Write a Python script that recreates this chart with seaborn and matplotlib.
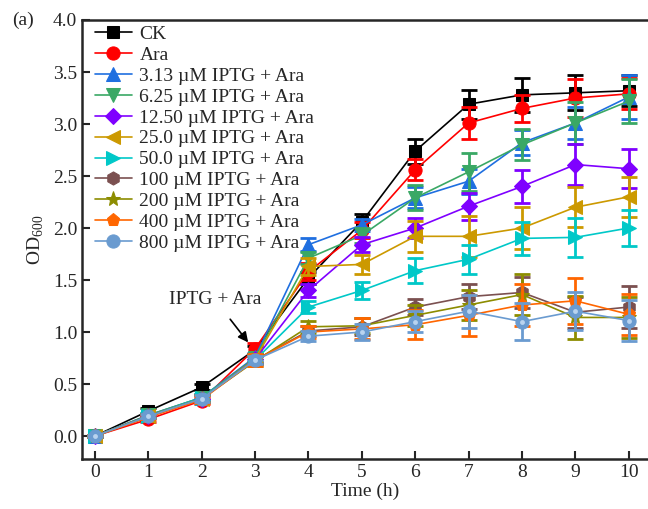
import numpy as np
import pandas as pd
import matplotlib
matplotlib.use("Agg")
import matplotlib.pyplot as plt
import seaborn as sns

time_h = [0, 1, 2, 3, 4, 5, 6, 7, 8, 9, 10]

labels = ["CK", "Ara",
          "3.13 µM IPTG + Ara", "6.25 µM IPTG + Ara", "12.50 µM IPTG + Ara",
          "25.0 µM IPTG + Ara", "50.0 µM IPTG + Ara", "100 µM IPTG + Ara",
          "200 µM IPTG + Ara", "400 µM IPTG + Ara", "800 µM IPTG + Ara"]

od_ck    = [0.0, 0.24, 0.47, 0.83, 1.52, 2.06, 2.74, 3.19, 3.28, 3.30, 3.32]
od_ara   = [0.0, 0.16, 0.34, 0.84, 1.58, 1.98, 2.56, 3.01, 3.15, 3.25, 3.29]
od_3p13  = [0.0, 0.20, 0.37, 0.76, 1.84, 2.03, 2.29, 2.45, 2.82, 3.01, 3.26]
od_6p25  = [0.0, 0.20, 0.37, 0.75, 1.71, 1.93, 2.29, 2.54, 2.80, 3.01, 3.22]
od_12p5  = [0.0, 0.19, 0.36, 0.74, 1.40, 1.84, 2.00, 2.21, 2.40, 2.61, 2.57]
od_25    = [0.0, 0.19, 0.36, 0.74, 1.63, 1.65, 1.92, 1.92, 2.00, 2.20, 2.30]
od_50    = [0.0, 0.19, 0.37, 0.73, 1.24, 1.40, 1.59, 1.70, 1.90, 1.91, 2.00]
od_100   = [0.0, 0.19, 0.36, 0.73, 1.01, 1.05, 1.24, 1.34, 1.38, 1.19, 1.24]
od_200   = [0.0, 0.19, 0.36, 0.72, 1.05, 1.06, 1.16, 1.26, 1.36, 1.14, 1.14]
od_400   = [0.0, 0.18, 0.35, 0.73, 1.00, 1.03, 1.07, 1.16, 1.26, 1.30, 1.17]
od_800   = [0.0, 0.19, 0.36, 0.73, 0.96, 1.00, 1.10, 1.20, 1.10, 1.20, 1.11]

err_ck   = [0.01, 0.03, 0.03, 0.04, 0.06, 0.07, 0.12, 0.14, 0.16, 0.17, 0.15]
err_ara  = [0.01, 0.03, 0.03, 0.05, 0.08, 0.08, 0.10, 0.15, 0.13, 0.18, 0.15]
err_3p13 = [0.01, 0.02, 0.03, 0.04, 0.06, 0.06, 0.10, 0.12, 0.12, 0.15, 0.21]
err_6p25 = [0.01, 0.02, 0.03, 0.04, 0.06, 0.07, 0.12, 0.18, 0.15, 0.20, 0.21]
err_12p5 = [0.01, 0.02, 0.03, 0.04, 0.06, 0.07, 0.10, 0.13, 0.16, 0.20, 0.19]
err_25   = [0.01, 0.02, 0.03, 0.04, 0.08, 0.09, 0.15, 0.20, 0.20, 0.19, 0.19]
err_50   = [0.01, 0.02, 0.03, 0.04, 0.06, 0.08, 0.12, 0.14, 0.16, 0.19, 0.17]
err_100  = [0.01, 0.02, 0.03, 0.04, 0.05, 0.08, 0.08, 0.12, 0.15, 0.15, 0.20]
err_200  = [0.01, 0.02, 0.03, 0.05, 0.06, 0.07, 0.10, 0.14, 0.20, 0.21, 0.20]
err_400  = [0.01, 0.02, 0.03, 0.06, 0.06, 0.10, 0.14, 0.20, 0.20, 0.22, 0.20]
err_800  = [0.01, 0.02, 0.03, 0.04, 0.05, 0.08, 0.10, 0.16, 0.18, 0.18, 0.20]

values = [od_ck, od_ara, od_3p13, od_6p25, od_12p5, od_25, od_50, od_100, od_200, od_400, od_800]
errors = [err_ck, err_ara, err_3p13, err_6p25, err_12p5, err_25, err_50, err_100, err_200, err_400, err_800]

colors = ["#000000", "#ff0000", "#1f6fe0", "#3aa865", "#7f00ff", "#cc9900",
          "#00c8c8", "#7b5050", "#8c8c00", "#ff6600", "#6a9bd0"]
markers = ["s", "o", "^", "v", "D", "<", ">", "h", "*", "p", "o"]
msizes = [8.5, 9.5, 9.5, 9.5, 8.5, 9.5, 9.5, 9.5, 11, 9.5, 9.5]

sns.set_style("ticks")
plt.rcParams["font.family"] = ["Liberation Serif", "DejaVu Serif"]
plt.rcParams["mathtext.fontset"] = "custom"
plt.rcParams["mathtext.rm"] = "Liberation Serif"

FS = 14

fig = plt.figure(figsize=(6.48, 5.09), dpi=100)
ax = fig.add_axes([82 / 648, 50 / 509, 1 - 82 / 648, 439 / 509])

for lab, v, e, c, m, ms in zip(labels, values, errors, colors, markers, msizes):
    df = pd.DataFrame({"Time": time_h, "OD": v})
    sns.lineplot(data=df, x="Time", y="OD", ax=ax, color=c, marker=m,
                 markersize=ms, markeredgecolor=c, linewidth=1.2,
                 label=lab, errorbar=None)
    ax.errorbar(time_h, v, yerr=e, fmt="none", ecolor=c, elinewidth=2.0,
                capsize=5.5, capthick=2.0)
    if lab.startswith("800"):
        ax.plot(time_h, v, linestyle="none", marker="o", markersize=3.5,
                markerfacecolor="#b9d3ef", markeredgecolor="none")

ax.set_xlim(-0.243, 10.36)
ax.set_ylim(-0.221, 4.0)
ax.set_xticks(range(0, 11))
ax.set_yticks(np.arange(0, 4.01, 0.5))
ax.set_yticklabels([f"{t:.1f}" for t in np.arange(0, 4.01, 0.5)])
ax.tick_params(direction="in", length=6, width=1.5, labelsize=FS)
for s in ["left", "bottom", "top"]:
    ax.spines[s].set_linewidth(1.8)
    ax.spines[s].set_visible(True)
ax.spines["right"].set_visible(False)

ax.set_xlabel("Time (h)", fontsize=FS, labelpad=1)
ax.set_ylabel(r"OD$_{\mathregular{600}}$", fontsize=FS, labelpad=5)

ax.annotate("IPTG + Ara", xy=(2.87, 0.90), xytext=(2.25, 1.31),
            fontsize=FS, ha="center", va="center",
            arrowprops=dict(arrowstyle="-|>", color="black", lw=1.2,
                            shrinkA=7, shrinkB=0, mutation_scale=15))

fig.text(12 / 648, 1 - 20 / 509, "(a)", fontsize=FS, ha="left", va="center")

leg = ax.legend(loc="upper left", bbox_to_anchor=(0.007, 1.008), frameon=False,
                fontsize=FS, handlelength=1.9, handletextpad=0.4,
                labelspacing=0.17, borderaxespad=0.25, borderpad=0.2)

fig.savefig("out.png", dpi=100)
